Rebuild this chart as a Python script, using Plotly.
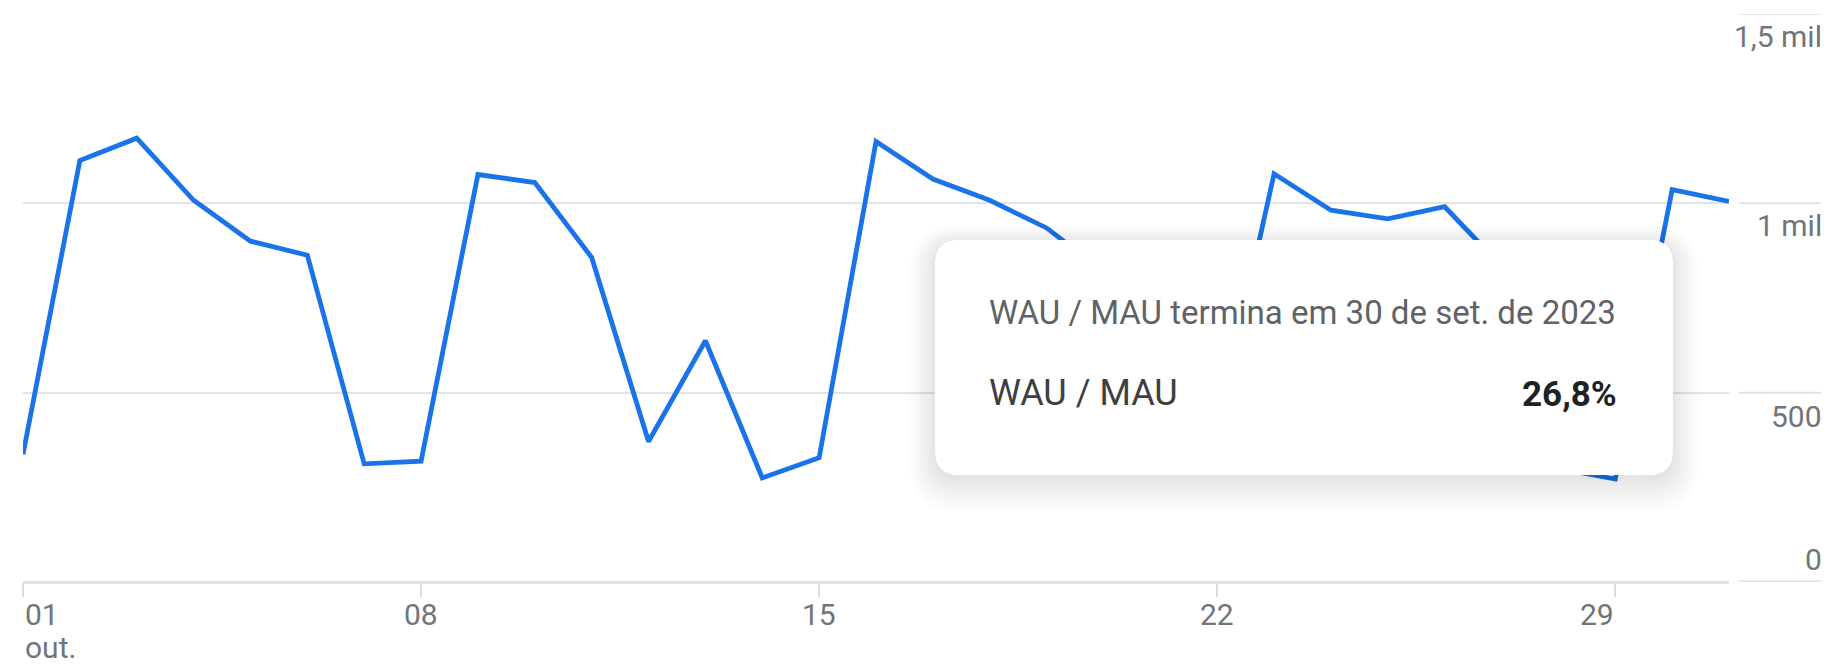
import plotly.graph_objects as go

# ---- data ----
day_numbers = [1, 2, 3, 4, 5, 6, 7, 8, 9, 10, 11, 12, 13, 14, 15, 16,
               17, 18, 19, 20, 21, 22, 23, 24, 25, 26, 27, 28, 29, 30, 31]
dates = [f"2023-10-{d:02d}" for d in day_numbers]
values = [337, 1113, 1172, 1008, 900, 863, 312, 319, 1076, 1055, 857, 371,
          637, 275, 328, 1163, 1064, 1008, 935, 820, 330, 400, 1078, 982,
          959, 991, 834, 300, 272, 1036, 1005]

x_tick_dates = ["2023-10-01", "2023-10-08", "2023-10-15", "2023-10-22", "2023-10-29"]
x_tick_labels = ["01", "08", "15", "22", "29"]
x_month_label = "out."

y_tick_vals = [0, 500, 1000, 1500]
y_tick_labels = ["0", "500", "1 mil", "1,5 mil"]

tooltip_title = "WAU / MAU termina em 30 de set. de 2023"
tooltip_series = "WAU / MAU"
tooltip_value = "26,8%"

# ---- layout geometry (page pixels; page body has an 8px margin) ----
O = 8
W, H = 1829 - O, 664 - O
PLOT_L, PLOT_R, PLOT_T, PLOT_B = 23, 1729, 14, 582  # in page pixels
L = PLOT_L - O
T = PLOT_T - O
R = W - (PLOT_R - O)
B = H - (PLOT_B - O)
PW = W - L - R
PH = H - T - B


def px(xp):
    return ((xp - O) - L) / PW


def py(yp):
    return (H - B - (yp - O)) / PH


FONT = "Roboto"
GRID = "#e3e3e3"
LABEL = "#70757a"

fig = go.Figure()
fig.add_trace(go.Scatter(
    x=dates, y=values, mode="lines",
    line=dict(color="#1a73e8", width=4.8),
    hoverinfo="skip", showlegend=False,
))

shapes = []
# right-side gridline segments next to the labels
for v in y_tick_vals:
    shapes.append(dict(type="line", xref="paper", yref="y",
                       x0=px(1739), x1=px(1822), y0=v, y1=v,
                       line=dict(color=GRID, width=2 if v else 3), layer="below"))


def rrect(x0, y0, x1, y1, r):
    def P(a, b):
        return f"{px(a):.6f},{py(b):.6f}"
    return (f"M {P(x0 + r, y0)} L {P(x1 - r, y0)} Q {P(x1, y0)} {P(x1, y0 + r)} "
            f"L {P(x1, y1 - r)} Q {P(x1, y1)} {P(x1 - r, y1)} "
            f"L {P(x0 + r, y1)} Q {P(x0, y1)} {P(x0, y1 - r)} "
            f"L {P(x0, y0 + r)} Q {P(x0, y0)} {P(x0 + r, y0)} Z")


bx0, by0, bx1, by1, rad = 935, 240, 1673, 475, 24
# soft shadow
for e in [1, 3, 6, 9, 12, 15, 18, 22, 26]:
    off = 3 + e * 0.3
    shapes.append(dict(type="path", xref="paper", yref="paper",
                       path=rrect(bx0 - e, by0 - e + off, bx1 + e, by1 + e + off, rad + e),
                       fillcolor="rgba(0,0,0,0.012)", line=dict(width=0), layer="above"))
shapes.append(dict(type="path", xref="paper", yref="paper",
                   path=rrect(bx0, by0, bx1, by1, rad),
                   fillcolor="#ffffff", line=dict(width=0), layer="above"))

annotations = []
# y labels
yshift = {0: 23, 500: -24, 1000: -22, 1500: -22}
for v, t in zip(y_tick_vals, y_tick_labels):
    annotations.append(dict(xref="paper", yref="y", x=px(1823), y=v, yshift=yshift[v],
                            text=t, showarrow=False, xanchor="right", yanchor="middle",
                            borderpad=0, font=dict(family=FONT, size=30, color=LABEL)))
# x labels
for i, (d, t) in enumerate(zip(x_tick_dates, x_tick_labels)):
    if i == 0:
        xa, xs = "left", 1
    elif i == len(x_tick_dates) - 1:
        xa, xs = "right", 0
    else:
        xa, xs = "center", 0
    annotations.append(dict(xref="x", yref="paper", x=d, y=py(614), xshift=xs,
                            text=t, showarrow=False, xanchor=xa, yanchor="middle",
                            borderpad=0, font=dict(family=FONT, size=30, color=LABEL)))
annotations.append(dict(xref="x", yref="paper", x=x_tick_dates[0], y=py(647), xshift=1,
                        text=x_month_label, showarrow=False, xanchor="left", yanchor="middle",
                        borderpad=0, font=dict(family=FONT, size=30, color=LABEL)))
# tooltip text
annotations.append(dict(xref="paper", yref="paper", x=px(987), y=py(312),
                        text=tooltip_title, showarrow=False, xanchor="left", yanchor="middle",
                        font=dict(family=FONT, size=33, color="#5f6368")))
annotations.append(dict(xref="paper", yref="paper", x=px(987), y=py(393),
                        text=tooltip_series, showarrow=False, xanchor="left", yanchor="middle",
                        font=dict(family=FONT, size=36, color="#3c4043")))
annotations.append(dict(xref="paper", yref="paper", x=px(1619), y=py(394),
                        text=f"<b>{tooltip_value}</b>", showarrow=False, xanchor="right",
                        yanchor="middle", font=dict(family=FONT, size=35, color="#202124")))

fig.update_layout(
    width=W, height=H,
    margin=dict(l=L, r=R, t=T, b=B, autoexpand=False),
    paper_bgcolor="white", plot_bgcolor="white",
    font=dict(family=FONT),
    shapes=shapes, annotations=annotations,
    showlegend=False,
    xaxis=dict(type="date", range=["2023-10-01", "2023-10-31"],
               tickvals=x_tick_dates, showticklabels=False,
               ticks="outside", ticklen=14, tickwidth=2, tickcolor="#dadce0",
               showgrid=False, zeroline=False, showline=False, fixedrange=True),
    yaxis=dict(range=[0, 1500], tickvals=y_tick_vals, showticklabels=False,
               showgrid=True, gridcolor=GRID, gridwidth=2,
               zeroline=True, zerolinecolor=GRID, zerolinewidth=3,
               showline=False, fixedrange=True),
)

fig.write_html("out.html")
